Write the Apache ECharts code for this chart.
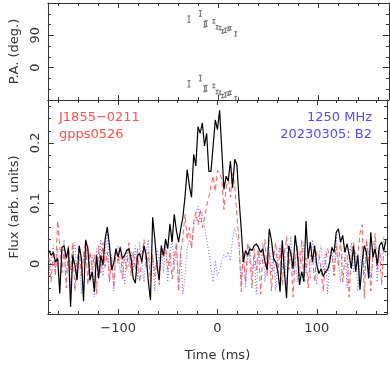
<!DOCTYPE html>
<html>
<head>
<meta charset="utf-8">
<script src="https://cdn.jsdelivr.net/npm/echarts@6/dist/echarts.min.js"></script>
<style>
  html, body { margin: 0; padding: 0; background: #fff; }
  #chart { width: 390px; height: 367px; }
</style>
</head>
<body>
<div id="chart"></div>
<script>
// time axis (ms) and pulse profile bins
const timeRange = [-170.7, 170.7];

// total intensity (black)
const totalI = [
  0.022, 0.014, 0.019, 0.003, 0.009, -0.049, 0.027, 0.030, 0.009, 0.027,
  -0.071, 0.014, -0.002, -0.027, 0.030, 0.009, -0.062, 0.039, 0.025, -0.027,
  -0.013, -0.046, 0.014, -0.024, 0.014, -0.002, 0.041, 0.061, 0.030, -0.010,
  0.001, 0.025, 0.011, 0.027, 0.009, 0.014, 0.022, 0.025, 0.009,
  -0.024, -0.032, 0.014, 0.017, 0.003, 0.030, 0.014, -0.029, -0.060, 0.077,
  0.041, -0.002, -0.027, 0.030, 0.014, 0.041, 0.025, 0.066, 0.036, 0.082,
  0.055, 0.036, 0.058, 0.077, 0.112, 0.156, 0.129, 0.110, 0.181, 0.162,
  0.227, 0.216, 0.233, 0.195, 0.216, 0.153, 0.153, 0.195, 0.238, 0.222,
  0.254,
  0.189, 0.123, 0.145, 0.137, 0.170, 0.126, 0.173, 0.164, 0.107, 0.058,
  0.003, 0.022, 0.014, 0.025, 0.022, 0.030, 0.033, 0.027, 0.019, 0.025,
  0.003, -0.010, 0.058, 0.039, 0.009, 0.003, -0.013, -0.046, 0.039, -0.013,
  -0.057, 0.030, 0.017, -0.008, 0.047, 0.019, -0.035, -0.013, -0.029, 0.071,
  0.009, 0.036, 0.003, 0.030, -0.002, -0.016, -0.008, -0.021, -0.013, -0.010,
  0.003, 0.027, 0.019, 0.052, 0.058, 0.036, 0.047, 0.019, 0.033, 0.014,
  -0.008, 0.030, -0.013, 0.014, -0.043, 0.003, 0.030, 0.019, -0.024, 0.052,
  0.011, 0.025, -0.002, 0.030, 0.036, 0.022, 0.039
];

// linear polarisation (red dashed)
const linearL = [
  0.010, -0.030, 0.020, -0.020, 0.071, 0.030, -0.015, 0.025, -0.040, 0.030,
  -0.010, 0.035, -0.045, 0.005, 0.030, -0.020, 0.010, 0.040, -0.035, 0.020,
  -0.010, 0.015, -0.050, 0.030, -0.015, 0.035, -0.005, 0.020, -0.030, 0.010,
  -0.040, 0.025, 0.000, 0.030, -0.025, 0.015, -0.010, 0.035, -0.020,
  0.020, -0.010, 0.025, -0.030, 0.010, 0.040, -0.005, 0.020, -0.030, 0.015,
  -0.020, 0.005, -0.035, 0.025, 0.010, 0.030, -0.010, 0.020, -0.025, 0.010,
  0.035, -0.046, 0.020, 0.045, 0.082, 0.040, 0.060, 0.025, 0.070, 0.085,
  0.065, 0.090, 0.060, 0.075, 0.095, 0.110, 0.130, 0.145, 0.120, 0.155,
  0.150,
  0.140, 0.090, 0.125, 0.145, 0.110, 0.150, 0.130, 0.080, 0.036, -0.046,
  0.020, -0.030, 0.035, 0.010, -0.040, 0.025, -0.010, 0.030, -0.050, 0.015,
  0.040, -0.020, 0.020, -0.045, 0.010, 0.035, -0.015, 0.025, -0.035, 0.015,
  0.045, -0.010, 0.020, -0.055, 0.005, 0.030, -0.020, 0.040, -0.030, 0.010,
  -0.040, 0.015, 0.010, -0.030, 0.020, 0.015, -0.010, -0.046, 0.005, 0.025,
  0.010, 0.015, -0.020, 0.030, -0.005, 0.040, -0.030, 0.010, 0.015, -0.055,
  0.020, 0.035, 0.010, 0.015, 0.050, 0.065, -0.057, 0.040, 0.010, -0.045,
  0.020, 0.050, -0.010, 0.030, -0.035, 0.020, 0.035
];

// circular polarisation (blue dotted)
const circularV = [
  -0.020, 0.010, 0.030, -0.010, 0.025, -0.035, 0.015, 0.040, -0.015, 0.005,
  -0.040, 0.020, 0.035, -0.025, 0.010, -0.050, 0.020, 0.000, 0.030, -0.030,
  0.015, -0.055, 0.025, -0.010, 0.040, -0.020, 0.010, 0.060, -0.030, 0.015,
  -0.045, 0.020, 0.030, -0.015, 0.010, -0.035, 0.025, -0.005, 0.020,
  -0.010, 0.030, -0.025, 0.035, 0.005, -0.030, 0.020, 0.040, -0.020, 0.010,
  -0.045, 0.025, 0.005, 0.030, -0.015, 0.035, -0.030, 0.015, 0.045, -0.010,
  0.030, -0.035, 0.020, -0.050, -0.020, 0.025, 0.040, 0.030, 0.060, 0.080,
  0.095, 0.070, 0.085, 0.060, 0.040, 0.020, -0.010, -0.030, 0.005, -0.020,
  -0.010,
  0.005, 0.015, 0.010, 0.020, 0.005, 0.040, 0.060, 0.045, 0.030, -0.030,
  0.020, -0.040, 0.010, 0.030, -0.020, 0.015, -0.050, 0.025, 0.000, 0.035,
  -0.030, 0.010, 0.040, -0.015, 0.020, -0.045, 0.015, 0.030, -0.010, 0.025,
  -0.035, 0.005, 0.045, -0.020, 0.010, -0.030, 0.020, 0.000, 0.035, -0.015,
  0.020, -0.025, 0.040, 0.010, -0.035, 0.015, 0.030, -0.010, 0.020, -0.050,
  0.010, 0.030, -0.020, 0.045, 0.005, -0.030, 0.015, 0.025, -0.040, 0.010,
  0.035, -0.015, 0.020, -0.045, 0.000, 0.030, -0.020, 0.040, 0.015, -0.025,
  0.010, 0.035, -0.030, 0.020, 0.005, 0.045, 0.010
];

// position angle points
const paTime = [-29.5, -18.1, -13.8, -12.2, -4.6, -1.4, 1.6, 4.2, 6.9, 9.8, 11.8, 17.3];
const paDeg  = [135, 151, 121, 123, 129, 112.5, 110, 101, 104, 108, 110, 94];
const paErr  = [9, 8, 8, 8, 5, 5, 5, 5, 6, 5, 5, 6];

const paTicks = [0, 90];

const FONT = '"DejaVu Sans", sans-serif';
const AXIS_COLOR = '#333';
const TEXT_COLOR = '#333';

const binWidth = (timeRange[1] - timeRange[0]) / totalI.length;
const binTime = totalI.map((v, i) => timeRange[0] + (i + 0.5) * binWidth);
const pairs = (arr) => arr.map((v, i) => [binTime[i], v]);

const paData = [];
paTime.forEach((t, i) => {
  paData.push([t, paDeg[i], paErr[i]]);
  paData.push([t, paDeg[i] - 180, paErr[i]]);
});

const chart = echarts.init(document.getElementById('chart'));

function timeAxis(grid, pos, labels) {
  return {
    type: 'value', gridIndex: grid, position: pos,
    min: timeRange[0], max: timeRange[1], splitNumber: 3,
    axisLine: { show: true, onZero: false, lineStyle: { color: AXIS_COLOR, width: 1 } },
    axisTick: { show: true, inside: true, length: 5, lineStyle: { color: AXIS_COLOR } },
    minorTick: { show: true, splitNumber: 5, length: 3, lineStyle: { color: AXIS_COLOR } },
    splitLine: { show: false },
    axisLabel: {
      show: labels, margin: 8, fontFamily: FONT, fontSize: 13, color: TEXT_COLOR,
      formatter: (v) => (Math.abs(v) % 100 === 0 ? (v < 0 ? '\u2212' + Math.abs(v) : String(v)) : '')
    },
    name: labels ? 'Time (ms)' : '',
    nameLocation: 'middle', nameGap: 35,
    nameTextStyle: { fontFamily: FONT, fontSize: 13, color: TEXT_COLOR }
  };
}

function paAxis(pos, labels) {
  return {
    type: 'value', gridIndex: 0, position: pos,
    min: -90, max: 180, interval: 90,
    axisLine: { show: true, onZero: false, lineStyle: { color: AXIS_COLOR, width: 1 } },
    axisTick: { show: true, inside: true, length: 6, lineStyle: { color: AXIS_COLOR } },
    minorTick: { show: true, splitNumber: 3, length: 3, lineStyle: { color: AXIS_COLOR } },
    splitLine: { show: false },
    axisLabel: {
      show: labels, rotate: 90, margin: 6, fontFamily: FONT, fontSize: 13, color: TEXT_COLOR,
      formatter: (v) => (paTicks.indexOf(v) >= 0 ? String(v) : '')
    },
    name: labels ? 'P.A. (deg.)' : '',
    nameLocation: 'middle', nameGap: 23,
    nameTextStyle: { fontFamily: FONT, fontSize: 13, color: TEXT_COLOR }
  };
}

function fluxAxis(pos, labels) {
  return {
    type: 'value', gridIndex: 1, position: pos,
    min: -0.083, max: 0.271, splitNumber: 3,
    axisLine: { show: true, onZero: false, lineStyle: { color: AXIS_COLOR, width: 1 } },
    axisTick: { show: true, inside: true, length: 6, lineStyle: { color: AXIS_COLOR } },
    minorTick: { show: true, splitNumber: 5, length: 3, lineStyle: { color: AXIS_COLOR } },
    splitLine: { show: false },
    axisLabel: {
      show: labels, rotate: 90, margin: 6, fontFamily: FONT, fontSize: 13, color: TEXT_COLOR,
      formatter: (v) => (Math.abs(v * 10 - Math.round(v * 10)) < 1e-6 ? String(+v.toFixed(1)) : '')
    },
    name: labels ? 'Flux (arb. units)' : '',
    nameLocation: 'middle', nameGap: 23,
    nameTextStyle: { fontFamily: FONT, fontSize: 13, color: TEXT_COLOR }
  };
}

const option = {
  animation: false,
  backgroundColor: '#fff',
  grid: [
    { left: 42, right: 1, top: 0, height: 100 },
    { left: 42, right: 1, top: 100, height: 216 }
  ],
  xAxis: [
    timeAxis(0, 'bottom', false),
    timeAxis(0, 'top', false),
    timeAxis(1, 'bottom', true),
    timeAxis(1, 'top', false)
  ],
  yAxis: [
    paAxis('left', true),
    paAxis('right', false),
    fluxAxis('left', true),
    fluxAxis('right', false)
  ],
  graphic: [
    { type: 'text', left: 59, top: 111, style: { text: 'J1855\u22120211', fill: '#ff4d4d', font: '13px ' + FONT } },
    { type: 'text', left: 59, top: 128, style: { text: 'gpps0526', fill: '#ff4d4d', font: '13px ' + FONT } },
    { type: 'text', right: 18, top: 111, style: { text: '1250 MHz', fill: '#4d4dff', font: '13px ' + FONT } },
    { type: 'text', right: 18, top: 128, style: { text: '20230305: B2', fill: '#4d4dff', font: '13px ' + FONT } }
  ],
  series: [
    {
      type: 'custom', xAxisIndex: 0, yAxisIndex: 0, clip: true,
      data: paData,
      renderItem: (params, api) => {
        const t = api.value(0), pa = api.value(1), e = api.value(2);
        const hi = api.coord([t, pa + e]);
        const lo = api.coord([t, pa - e]);
        const w = 1.5;
        const st = { stroke: '#707070', lineWidth: 1 };
        return {
          type: 'group',
          children: [
            { type: 'line', shape: { x1: hi[0], y1: hi[1], x2: lo[0], y2: lo[1] }, style: st },
            { type: 'line', shape: { x1: hi[0] - w, y1: hi[1], x2: hi[0] + w, y2: hi[1] }, style: st },
            { type: 'line', shape: { x1: lo[0] - w, y1: lo[1], x2: lo[0] + w, y2: lo[1] }, style: st }
          ]
        };
      }
    },
    {
      name: 'V', type: 'line', xAxisIndex: 2, yAxisIndex: 2,
      data: pairs(circularV), symbol: 'none',
      lineStyle: { color: '#6a6aff', width: 1, type: [1, 2] }
    },
    {
      name: 'L', type: 'line', xAxisIndex: 2, yAxisIndex: 2,
      data: pairs(linearL), symbol: 'none',
      lineStyle: { color: '#ff5e5e', width: 1, type: [5, 3] }
    },
    {
      name: 'I', type: 'line', xAxisIndex: 2, yAxisIndex: 2,
      data: pairs(totalI), symbol: 'none',
      lineStyle: { color: '#000', width: 1.2 }
    }
  ]
};

chart.setOption(option);
</script>
</body>
</html>
